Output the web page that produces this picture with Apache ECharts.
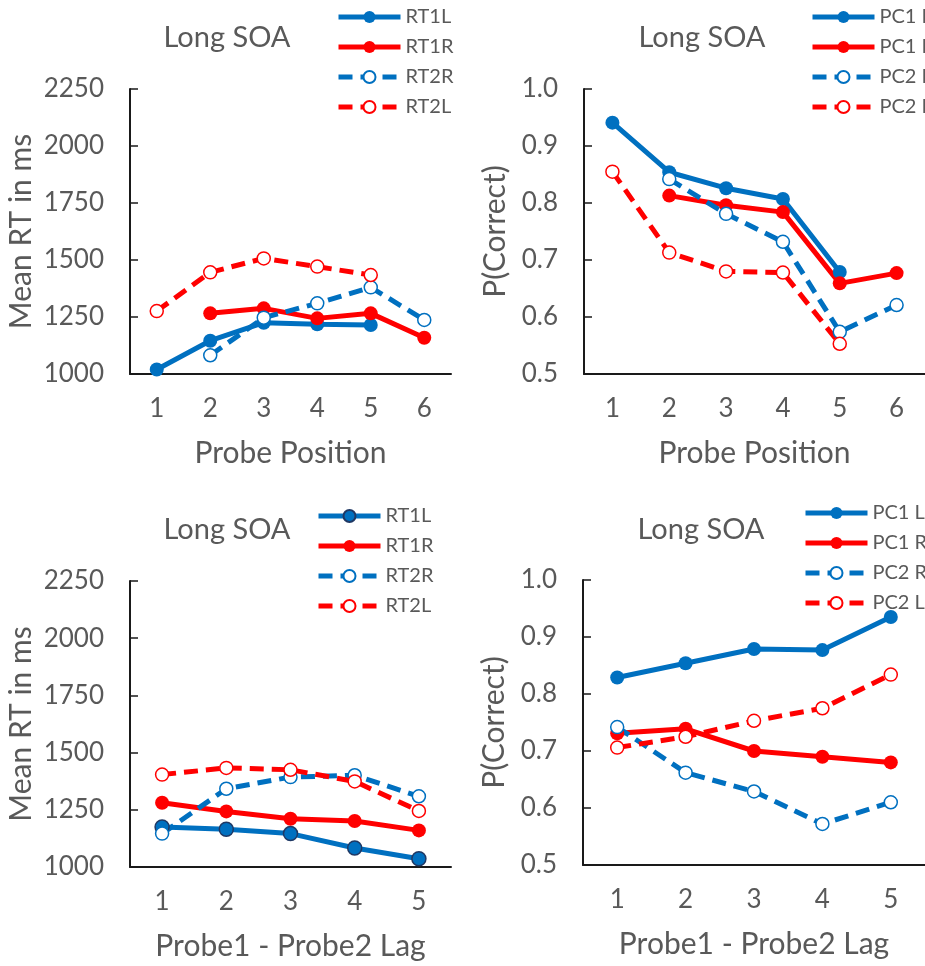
<!DOCTYPE html>
<html style="height: 100%">
<head>
    <meta charset="utf-8">
</head>
<body style="height: 100%; margin: 0; background: #fff">
<div id="container" style="width: 925px; height: 966px"></div>
<script type="text/javascript" src="https://cdn.jsdelivr.net/npm/echarts@6/dist/echarts.min.js"></script>
<script type="text/javascript">
// x categories
var posCats = ['1', '2', '3', '4', '5', '6'];
var lagCats = ['1', '2', '3', '4', '5'];

// top row: by probe position
var posRT1L = [1020, 1146, 1225, 1218, 1215, null];
var posRT1R = [null, 1266, 1288, 1244, 1266, 1159];
var posRT2R = [null, 1082, 1247, 1310, 1380, 1237];
var posRT2L = [1276, 1446, 1507, 1471, 1434, null];
var posPC1L = [0.941, 0.854, 0.826, 0.807, 0.679, null];
var posPC1R = [null, 0.813, 0.796, 0.784, 0.659, 0.677];
var posPC2R = [null, 0.842, 0.781, 0.732, 0.574, 0.621];
var posPC2L = [0.855, 0.713, 0.680, 0.678, 0.553, null];

// bottom row: by probe1 - probe2 lag
var lagRT1L = [1175, 1165, 1146, 1083, 1036];
var lagRT1R = [1281, 1243, 1211, 1201, 1160];
var lagRT2R = [1146, 1342, 1393, 1401, 1309];
var lagRT2L = [1404, 1433, 1425, 1374, 1245];
var lagPC1L = [0.829, 0.854, 0.879, 0.877, 0.935];
var lagPC1R = [0.731, 0.739, 0.700, 0.690, 0.680];
var lagPC2R = [0.742, 0.662, 0.629, 0.572, 0.610];
var lagPC2L = [0.706, 0.725, 0.753, 0.775, 0.834];

var BLUE = '#0070C0', RED = '#FF0000', GREY = '#595959', AXIS = '#1a1a1a';

var myChart = echarts.init(document.getElementById('container'));

function xAx(i, cats, name) {
    return {
        type: 'category', gridIndex: i, data: cats, boundaryGap: true,
        name: name, nameLocation: 'middle', nameGap: 64,
        nameTextStyle: {fontSize: 30, color: GREY},
        axisLine: {lineStyle: {color: AXIS, width: 2}},
        axisTick: {alignWithLabel: true, inside: true, length: 7, lineStyle: {color: AXIS, width: 1.5}},
        axisLabel: {fontSize: 26, color: GREY, margin: 22}
    };
}
function yAx(i, rt) {
    return {
        type: 'value', gridIndex: i,
        min: rt ? 1000 : 0.5, max: rt ? 2250 : 1.0, interval: rt ? 250 : 0.1,
        name: rt ? 'Mean RT in ms' : 'P(Correct)', nameLocation: 'middle', nameGap: rt ? 94 : 74,
        nameTextStyle: {fontSize: 30, color: GREY},
        splitLine: {show: false},
        axisLine: {show: true, lineStyle: {color: AXIS, width: 2}},
        axisTick: {show: true, inside: true, length: 8, lineStyle: {color: AXIS, width: 1.5}},
        axisLabel: {fontSize: 26, color: GREY, margin: 26,
            formatter: function (v) { return rt ? String(v) : v.toFixed(1); }}
    };
}
function line(name, i, data, color, dashed, border) {
    var s = {
        name: name, type: 'line', xAxisIndex: i, yAxisIndex: i, data: data,
        symbol: 'circle', symbolSize: dashed ? 13 : 14,
        lineStyle: {color: color, width: 5, type: dashed ? [14, 8] : 'solid'},
        itemStyle: dashed ? {color: '#fff', borderColor: color, borderWidth: 1.5} : {color: color}
    };
    if (border) {
        s.itemStyle = {color: color, borderColor: border, borderWidth: 1.5};
    }
    return s;
}
function leg(left, top, names) {
    return {
        orient: 'vertical', left: left, top: top, itemWidth: 62, itemHeight: 15, itemGap: 10,
        data: names, textStyle: {fontSize: 20, color: GREY, overflow: 'none'},
        lineStyle: {width: 5},
        formatter: function (n) { return n.split(':').pop(); }
    };
}
function ttl(x, y) {
    return {text: 'Long SOA', left: x, top: y, textAlign: 'center',
        textStyle: {fontSize: 29, fontWeight: 'normal', color: GREY}};
}

option = {
    animation: false,
    backgroundColor: '#fff',
    textStyle: {fontFamily: 'Lato'},
    title: [ttl(222, 18), ttl(697, 18), ttl(222, 510), ttl(696, 510)],
    legend: [
        leg(331, 2, ['a:RT1L', 'a:RT1R', 'a:RT2R', 'a:RT2L']),
        leg(805, 2, ['b:PC1 L', 'b:PC1 R', 'b:PC2 R', 'b:PC2 L']),
        leg(311, 501, ['c:RT1L', 'c:RT1R', 'c:RT2R', 'c:RT2L']),
        leg(798, 498, ['d:PC1 L', 'd:PC1 R', 'd:PC2 R', 'd:PC2 L'])
    ],
    grid: [
        {left: 130, top: 89, width: 321, height: 285},
        {left: 584, top: 89, width: 341, height: 285},
        {left: 130, top: 581, width: 321, height: 286},
        {left: 583, top: 580, width: 342, height: 285}
    ],
    xAxis: [
        xAx(0, posCats, 'Probe Position'),
        xAx(1, posCats, 'Probe Position'),
        xAx(2, lagCats, 'Probe1 - Probe2 Lag'),
        xAx(3, lagCats, 'Probe1 - Probe2 Lag')
    ],
    yAxis: [yAx(0, true), yAx(1, false), yAx(2, true), yAx(3, false)],
    series: [
        line('a:RT1L', 0, posRT1L, BLUE, false),
        line('a:RT1R', 0, posRT1R, RED, false),
        line('a:RT2R', 0, posRT2R, BLUE, true),
        line('a:RT2L', 0, posRT2L, RED, true),
        line('b:PC1 L', 1, posPC1L, BLUE, false),
        line('b:PC1 R', 1, posPC1R, RED, false),
        line('b:PC2 R', 1, posPC2R, BLUE, true),
        line('b:PC2 L', 1, posPC2L, RED, true),
        line('c:RT1L', 2, lagRT1L, BLUE, false, '#1F3864'),
        line('c:RT1R', 2, lagRT1R, RED, false),
        line('c:RT2R', 2, lagRT2R, BLUE, true),
        line('c:RT2L', 2, lagRT2L, RED, true),
        line('d:PC1 L', 3, lagPC1L, BLUE, false),
        line('d:PC1 R', 3, lagPC1R, RED, false),
        line('d:PC2 R', 3, lagPC2R, BLUE, true),
        line('d:PC2 L', 3, lagPC2L, RED, true)
    ]
};
myChart.setOption(option);
</script>
</body>
</html>
